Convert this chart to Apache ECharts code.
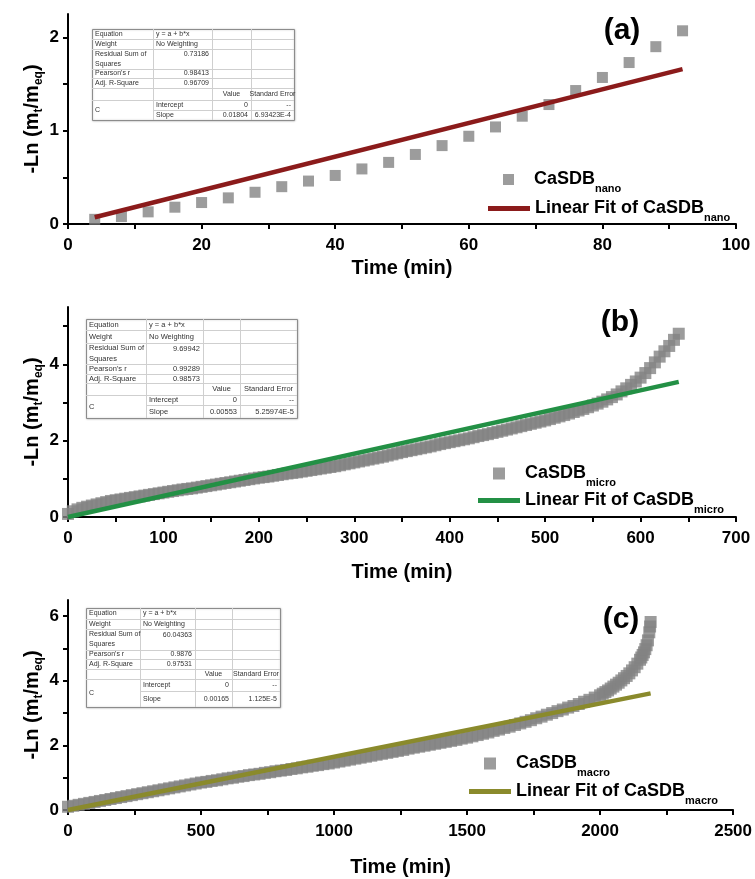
<!DOCTYPE html>
<html>
<head>
<meta charset="utf-8">
<title>Release kinetics fits</title>
<script src="https://cdn.jsdelivr.net/npm/echarts@6/dist/echarts.min.js"></script>
<style>
  html, body { margin: 0; padding: 0; background: #fff; }
  #chart { width: 755px; height: 879px; }
</style>
</head>
<body>
<div id="chart"></div>
<script>
// ---- (a) CaSDB nano ----
var timeA = [4, 8, 12, 16, 20, 24, 28, 32, 36, 40, 44, 48, 52, 56, 60, 64, 68, 72, 76, 80, 84, 88, 92];
var lnA = [0.05, 0.08, 0.13, 0.18, 0.23, 0.28, 0.34, 0.40, 0.46, 0.52, 0.59, 0.66, 0.745, 0.84, 0.94, 1.04, 1.155, 1.28, 1.43, 1.57, 1.73, 1.90, 2.07];
var fitTimeA = [4, 92];
var fitLnA = [0.072, 1.66];

// ---- (b) CaSDB micro ----
var timeB = [0, 5, 10, 15, 20, 25, 30, 35, 40, 45, 50, 55, 60, 65, 70, 75, 80, 85, 90, 95,
  100, 105, 110, 115, 120, 125, 130, 135, 140, 145, 150, 155, 160, 165, 170, 175, 180, 185, 190, 195,
  200, 205, 210, 215, 220, 225, 230, 235, 240, 245, 250, 255, 260, 265, 270, 275, 280, 285, 290, 295,
  300, 305, 310, 315, 320, 325, 330, 335, 340, 345, 350, 355, 360, 365, 370, 375, 380, 385, 390, 395,
  400, 405, 410, 415, 420, 425, 430, 435, 440, 445, 450, 455, 460, 465, 470, 475, 480, 485, 490, 495,
  500, 505, 510, 515, 520, 525, 530, 535, 540, 545, 550, 555, 560, 565, 570, 575, 580, 585, 590, 595,
  600, 605, 610, 615, 620, 625, 630, 635, 640];
var lnB = [0.08, 0.15, 0.20, 0.24, 0.27, 0.30, 0.33, 0.36, 0.39, 0.42, 0.44, 0.46, 0.48, 0.50, 0.52, 0.54, 0.56, 0.58, 0.60, 0.62,
  0.64, 0.66, 0.68, 0.70, 0.72, 0.735, 0.75, 0.77, 0.79, 0.81, 0.83, 0.85, 0.87, 0.89, 0.91, 0.93, 0.95, 0.97, 0.99, 1.01,
  1.03, 1.045, 1.06, 1.08, 1.10, 1.12, 1.14, 1.155, 1.17, 1.19, 1.21, 1.23, 1.25, 1.27, 1.29, 1.31, 1.33, 1.355, 1.38, 1.405,
  1.43, 1.455, 1.48, 1.505, 1.53, 1.555, 1.58, 1.61, 1.64, 1.67, 1.70, 1.725, 1.75, 1.775, 1.80, 1.825, 1.85, 1.88, 1.91, 1.935,
  1.96, 1.985, 2.01, 2.035, 2.06, 2.09, 2.12, 2.145, 2.17, 2.20, 2.23, 2.26, 2.29, 2.32, 2.35, 2.38, 2.41, 2.44, 2.47, 2.50,
  2.53, 2.565, 2.60, 2.635, 2.67, 2.71, 2.75, 2.79, 2.83, 2.875, 2.92, 2.97, 3.02, 3.08, 3.14, 3.21, 3.29, 3.37, 3.46, 3.55,
  3.65, 3.77, 3.90, 4.05, 4.20, 4.34, 4.48, 4.64, 4.80];
var fitTimeB = [0, 640];
var fitLnB = [0, 3.54];

// ---- (c) CaSDB macro ----
var timeC = [0, 20, 40, 60, 80, 100, 120, 140, 160, 180,
  200, 220, 240, 260, 280, 300, 320, 340, 360, 380,
  400, 420, 440, 460, 480, 500, 520, 540, 560, 580,
  600, 620, 640, 660, 680, 700, 720, 740, 760, 780,
  800, 820, 840, 860, 880, 900, 920, 940, 960, 980,
  1000, 1020, 1040, 1060, 1080, 1100, 1120, 1140, 1160, 1180,
  1200, 1220, 1240, 1260, 1280, 1300, 1320, 1340, 1360, 1380,
  1400, 1420, 1440, 1460, 1480, 1500, 1520, 1540, 1560, 1580,
  1600, 1620, 1640, 1660, 1680, 1700, 1720, 1740, 1760, 1780,
  1800, 1820, 1840, 1860, 1880, 1900, 1920, 1940, 1960, 1980,
  2000, 2010, 2020, 2030, 2040, 2050, 2060, 2070, 2080, 2090,
  2100, 2110, 2120, 2130, 2140, 2150, 2155, 2160, 2165, 2170,
  2175, 2180, 2185, 2188, 2190];
var lnC = [0.10, 0.13, 0.16, 0.19, 0.22, 0.25, 0.28, 0.31, 0.34, 0.37,
  0.40, 0.43, 0.46, 0.49, 0.52, 0.55, 0.58, 0.61, 0.64, 0.67,
  0.70, 0.73, 0.76, 0.79, 0.82, 0.85, 0.87, 0.90, 0.92, 0.95,
  0.98, 1.00, 1.03, 1.05, 1.08, 1.10, 1.12, 1.15, 1.17, 1.20,
  1.22, 1.24, 1.27, 1.29, 1.32, 1.34, 1.37, 1.39, 1.42, 1.44,
  1.47, 1.50, 1.53, 1.56, 1.59, 1.62, 1.65, 1.68, 1.71, 1.74,
  1.77, 1.80, 1.83, 1.86, 1.90, 1.93, 1.96, 1.99, 2.02, 2.05,
  2.08, 2.11, 2.14, 2.17, 2.21, 2.24, 2.28, 2.32, 2.36, 2.40,
  2.45, 2.49, 2.54, 2.58, 2.63, 2.68, 2.73, 2.78, 2.84, 2.89,
  2.95, 3.00, 3.06, 3.11, 3.17, 3.22, 3.28, 3.35, 3.41, 3.48,
  3.55, 3.60, 3.65, 3.70, 3.76, 3.82, 3.88, 3.94, 4.01, 4.08,
  4.15, 4.23, 4.32, 4.42, 4.53, 4.65, 4.72, 4.80, 4.88, 4.98,
  5.10, 5.25, 5.50, 5.68, 5.82];
var fitTimeC = [0, 2190];
var fitLnC = [0, 3.61];

// ---- axis ticks / labels ----
var xTicksA = [0, 10, 20, 30, 40, 50, 60, 70, 80, 90, 100];
var xLabelsA = [0, 20, 40, 60, 80, 100];
var yTicksA = [0, 0.5, 1, 1.5, 2];
var yLabelsA = [0, 1, 2];
var xTicksB = [0, 50, 100, 150, 200, 250, 300, 350, 400, 450, 500, 550, 600, 650, 700];
var xLabelsB = [0, 100, 200, 300, 400, 500, 600, 700];
var yTicksB = [0, 1, 2, 3, 4, 5];
var yLabelsB = [0, 2, 4];
var xTicksC = [0, 250, 500, 750, 1000, 1250, 1500, 1750, 2000, 2250, 2500];
var xLabelsC = [0, 500, 1000, 1500, 2000, 2500];
var yTicksC = [0, 1, 2, 3, 4, 5, 6];
var yLabelsC = [0, 2, 4, 6];

// ---- fit report tables (a, b, c) ----
var residualSS = ['0.73186', '9.69942', '60.04363'];
var pearsonR = ['0.98413', '0.99289', '0.9876'];
var adjR2 = ['0.96709', '0.98573', '0.97531'];
var interceptVal = ['0', '0', '0'];
var slopeVal = ['0.01804', '0.00553', '0.00165'];
var slopeErr = ['6.93423E-4', '5.25974E-5', '1.125E-5'];

var FONT = '"Liberation Sans", Arial, Helvetica, sans-serif';
var GRAY = '#838383';
var fitColors = ['#8b1b1b', '#239045', '#8a8a2c'];

function pairs(xs, ys) {
  return xs.map(function (x, i) { return [x, ys[i]]; });
}

var legendText = {
  'CaSDB nano': '{g| }{m|CaSDB}{s|nano}',
  'Fit nano': '{m|Linear Fit of CaSDB}{s|nano}',
  'CaSDB micro': '{g| }{m|CaSDB}{s|micro}',
  'Fit micro': '{m|Linear Fit of CaSDB}{s|micro}',
  'CaSDB macro': '{g| }{m|CaSDB}{s|macro}',
  'Fit macro': '{m|Linear Fit of CaSDB}{s|macro}'
};

var legendRich = {
  g: { width: 15, fontSize: 18, lineHeight: 20 },
  m: { fontSize: 18, fontWeight: 'bold', fontFamily: FONT, color: '#000', lineHeight: 20 },
  s: { fontSize: 11, fontWeight: 'bold', fontFamily: FONT, color: '#000', lineHeight: 12, padding: [19, 0, 0, 0] }
};

// scatter entry: small square icon; fit entry: thick bar as the line sample
function legendBox(name, left, top, w, h) {
  return {
    data: [{ name: name, icon: 'rect' }], orient: 'vertical', left: left, top: top, padding: 0,
    itemWidth: w, itemHeight: h, selectedMode: false,
    formatter: function (n) { return legendText[n]; },
    textStyle: { rich: legendRich }
  };
}

function xAx(idx, max, ticks, labels, gap) {
  return {
    gridIndex: idx, type: 'value', min: 0, max: max,
    axisLine: { show: true, onZero: false, lineStyle: { color: '#000', width: 2 } },
    axisTick: { show: true, customValues: ticks, length: 5, lineStyle: { color: '#000', width: 2 } },
    axisLabel: { customValues: labels, margin: 13, color: '#000', fontSize: 17, fontWeight: 'bold', fontFamily: FONT,
      formatter: function (v) { return String(v); } },
    splitLine: { show: false },
    name: 'Time (min)', nameLocation: 'middle', nameGap: gap,
    nameTextStyle: { color: '#000', fontSize: 20, fontWeight: 'bold', fontFamily: FONT }
  };
}

function yAx(idx, max, ticks, labels) {
  return {
    gridIndex: idx, type: 'value', min: 0, max: max,
    axisLine: { show: true, onZero: false, lineStyle: { color: '#000', width: 2 } },
    axisTick: { show: true, customValues: ticks, length: 5, lineStyle: { color: '#000', width: 2 } },
    axisLabel: { customValues: labels, margin: 9, color: '#000', fontSize: 17, fontWeight: 'bold', fontFamily: FONT,
      formatter: function (v) { return String(v); } },
    splitLine: { show: false },
    name: '{m|-Ln (m}{s|t}{m|/m}{s|eq}{m|)}', nameLocation: 'middle', nameGap: 25, nameRotate: 90,
    nameMoveOverlap: false,
    nameTextStyle: {
      rich: {
        m: { fontSize: 20, fontWeight: 'bold', fontFamily: FONT, color: '#000', lineHeight: 22 },
        s: { fontSize: 12, fontWeight: 'bold', fontFamily: FONT, color: '#000', lineHeight: 13, padding: [14, 0, 0, 0] }
      }
    }
  };
}

function makeTable(x0, y0, colW, rowH, fs, i) {
  var els = [];
  var cx = [x0], ry = [y0];
  colW.forEach(function (w) { cx.push(cx[cx.length - 1] + w); });
  rowH.forEach(function (h) { ry.push(ry[ry.length - 1] + h); });
  var W = cx[cx.length - 1] - x0, H = ry[ry.length - 1] - y0;
  var font = fs + 'px ' + FONT;
  els.push({ type: 'rect', shape: { x: x0 + 0.5, y: y0 + 0.5, width: W, height: H },
    style: { fill: '#fff', stroke: '#8c8c8c', lineWidth: 1, shadowBlur: 2, shadowColor: 'rgba(0,0,0,0.25)' } });
  for (var r = 1; r < rowH.length; r++) {
    var xs = (r === 7) ? cx[1] : x0;
    els.push({ type: 'line', shape: { x1: xs, y1: ry[r] + 0.5, x2: x0 + W, y2: ry[r] + 0.5 },
      style: { stroke: '#cfcfcf', lineWidth: 1 } });
  }
  for (var c = 1; c < colW.length; c++) {
    els.push({ type: 'line', shape: { x1: cx[c] + 0.5, y1: y0, x2: cx[c] + 0.5, y2: y0 + H },
      style: { stroke: '#cfcfcf', lineWidth: 1 } });
  }
  function cell(row, col, text, align, yMid) {
    var x = align === 'left' ? cx[col] + 3 : (align === 'right' ? cx[col + 1] - 3 : (cx[col] + cx[col + 1]) / 2);
    var y = yMid !== undefined ? yMid : (ry[row] + ry[row + 1]) / 2;
    els.push({ type: 'text', x: x, y: y,
      style: { text: text, font: font, fill: '#333', align: align, verticalAlign: 'middle', lineHeight: fs + 3 } });
  }
  cell(0, 0, 'Equation', 'left');
  cell(0, 1, 'y = a + b*x', 'left');
  cell(1, 0, 'Weight', 'left');
  cell(1, 1, 'No Weighting', 'left');
  cell(2, 0, 'Residual Sum of\nSquares', 'left');
  cell(2, 1, residualSS[i], 'right', ry[2] + rowH[2] / 4 + 0.5);
  cell(3, 0, "Pearson's r", 'left');
  cell(3, 1, pearsonR[i], 'right');
  cell(4, 0, 'Adj. R-Square', 'left');
  cell(4, 1, adjR2[i], 'right');
  cell(5, 2, 'Value', 'center');
  cell(5, 3, 'Standard Error', 'center');
  cell(6, 0, 'C', 'left', (ry[6] + ry[8]) / 2);
  cell(6, 1, 'Intercept', 'left');
  cell(6, 2, interceptVal[i], 'right');
  cell(6, 3, '--', 'right');
  cell(7, 1, 'Slope', 'left');
  cell(7, 2, slopeVal[i], 'right');
  cell(7, 3, slopeErr[i], 'right');
  return { type: 'group', children: els };
}

function panelLabel(text, x, y) {
  return { type: 'text', x: x, y: y,
    style: { text: text, font: 'bold 30px ' + FONT, fill: '#000', align: 'center', verticalAlign: 'middle' } };
}

var chart = echarts.init(document.getElementById('chart'));
var option = {
  animation: false,
  backgroundColor: '#fff',
  grid: [
    { left: 68, top: 14, width: 668, height: 210 },
    { left: 68, top: 307, width: 668, height: 210 },
    { left: 68, top: 600, width: 668, height: 210 }
  ],
  xAxis: [
    xAx(0, 100, xTicksA, xLabelsA, 34),
    xAx(1, 700, xTicksB, xLabelsB, 45),
    xAx(2, 2500, xTicksC, xLabelsC, 47)
  ],
  yAxis: [
    yAx(0, 2.25, yTicksA, yLabelsA),
    yAx(1, 5.5, yTicksB, yLabelsB),
    yAx(2, 6.5, yTicksC, yLabelsC)
  ],
  legend: [
    legendBox('CaSDB nano', 503, 164.5, 11, 11),
    legendBox('Fit nano', 488, 193.5, 42, 5),
    legendBox('CaSDB micro', 493, 458.5, 12, 12),
    legendBox('Fit micro', 478, 485.5, 42, 5),
    legendBox('CaSDB macro', 484, 748.5, 12, 12),
    legendBox('Fit macro', 469, 776.5, 42, 5)
  ],
  graphic: [
    makeTable(92, 29, [61, 59, 39, 43], [10, 10, 20, 9, 10, 12, 10, 10], 7, 0),
    makeTable(86, 319, [60, 57, 37, 57], [11, 13, 21, 10, 9, 12, 10, 13], 7.5, 1),
    makeTable(86, 608, [54, 55, 37, 48], [11, 10, 21, 9, 10, 10, 12, 16], 7, 2),
    panelLabel('(a)', 622, 31),
    panelLabel('(b)', 620, 323),
    panelLabel('(c)', 621, 620)
  ],
  series: [
    { name: 'CaSDB nano', type: 'scatter', xAxisIndex: 0, yAxisIndex: 0, symbol: 'rect', symbolSize: 11,
      itemStyle: { color: GRAY }, data: pairs(timeA, lnA), z: 2 },
    { name: 'Fit nano', type: 'line', xAxisIndex: 0, yAxisIndex: 0, symbol: 'none',
      lineStyle: { color: fitColors[0], width: 4.5 }, itemStyle: { color: fitColors[0] }, data: pairs(fitTimeA, fitLnA), z: 3 },
    { name: 'CaSDB micro', type: 'scatter', xAxisIndex: 1, yAxisIndex: 1, symbol: 'rect', symbolSize: 12,
      itemStyle: { color: GRAY }, data: pairs(timeB, lnB), z: 2 },
    { name: 'Fit micro', type: 'line', xAxisIndex: 1, yAxisIndex: 1, symbol: 'none',
      lineStyle: { color: fitColors[1], width: 4.5 }, itemStyle: { color: fitColors[1] }, data: pairs(fitTimeB, fitLnB), z: 3 },
    { name: 'CaSDB macro', type: 'scatter', xAxisIndex: 2, yAxisIndex: 2, symbol: 'rect', symbolSize: 12,
      itemStyle: { color: GRAY }, data: pairs(timeC, lnC), z: 2 },
    { name: 'Fit macro', type: 'line', xAxisIndex: 2, yAxisIndex: 2, symbol: 'none',
      lineStyle: { color: fitColors[2], width: 4.5 }, itemStyle: { color: fitColors[2] }, data: pairs(fitTimeC, fitLnC), z: 3 }
  ]
};
chart.setOption(option);
</script>
</body>
</html>
